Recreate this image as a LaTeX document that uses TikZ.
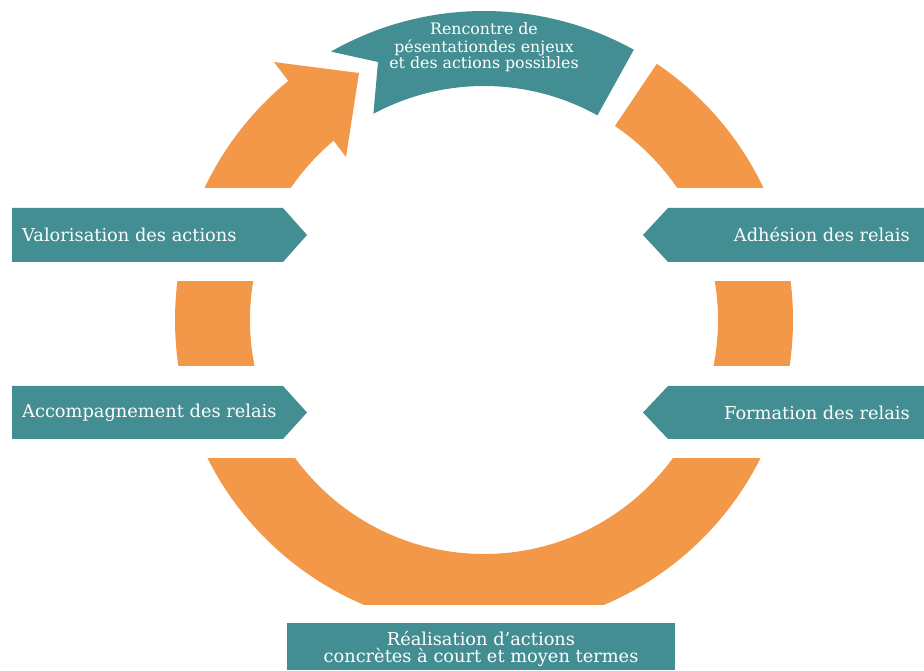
\documentclass[tikz,border=0pt]{standalone}
\usepackage{fontspec}
\setmainfont{DejaVu Serif}
\usetikzlibrary{calc}
\definecolor{ringorange}{HTML}{F29848}
\definecolor{tealbox}{HTML}{428E92}
\begin{document}
\begin{tikzpicture}[x=1pt,y=1pt,
  seg/.style={fill=ringorange, even odd rule},
  chev/.style={fill=tealbox},
  sidelbl/.style={text=white, inner sep=0pt, font=\fontsize{17.8}{20}\selectfont},
  toplbl/.style={text=white, inner sep=0pt, align=center, font=\fontsize{15.8}{16}\selectfont},
  botlbl/.style={text=white, inner sep=0pt, align=center, font=\fontsize{17.8}{17}\selectfont}]
\useasboundingbox (0,0) rectangle (924,670);
\coordinate (C) at (484,350);

% top-right ring segment
\begin{scope}
  \clip (484,482) rectangle (924,670);
  \clip (C) -- ($(C)+(56:700)$) -- ($(C)+(0:700)$) -- cycle;
  \fill[seg] (C) circle[radius=309pt] (C) circle[radius=234pt];
\end{scope}
% right middle segment
\begin{scope}
  \clip (484,304) rectangle (924,388);
  \fill[seg] (C) circle[radius=309pt] (C) circle[radius=234pt];
\end{scope}
% left middle segment
\begin{scope}
  \clip (0,304) rectangle (484,388);
  \fill[seg] (C) circle[radius=309pt] (C) circle[radius=234pt];
\end{scope}
% bottom segment
\begin{scope}
  \clip (0,66) rectangle (924,211);
  \fill[seg] (C) circle[radius=309pt] (C) circle[radius=234pt];
\end{scope}
% upper-left arrow shaft
\begin{scope}
  \clip (0,482) rectangle (484,670);
  \clip (C) -- ($(C)+(128:700)$) -- ($(C)+(180:700)$) -- cycle;
  \fill[seg] (C) circle[radius=309pt] (C) circle[radius=234pt];
\end{scope}
% arrow head
\fill[ringorange] (274,608) -- (359,597) -- (346,513) -- cycle;

% top teal block
\fill[chev] ($(C)+(119.7:309)$) arc[start angle=119.7, end angle=61, radius=309pt]
  -- ($(C)+(61:234)$) arc[start angle=61, end angle=118.2, radius=234pt]
  -- (378,608) -- cycle;
\node[toplbl] (top) at (484,623) {Rencontre de\\[2pt]pésentationdes enjeux\\et des actions possibles};

% left chevrons
\fill[chev] (12,408) -- (283,408) -- (307,435) -- (283,462) -- (12,462) -- cycle;
\node[sidelbl, anchor=west] (valo) at (22,435) {Valorisation des actions};
\fill[chev] (12,231) -- (283,231) -- (307,257.5) -- (283,284) -- (12,284) -- cycle;
\node[sidelbl, anchor=west] (accomp) at (22,257.5) {Accompagnement des relais};

% right chevrons
\fill[chev] (924,408) -- (668,408) -- (643,435) -- (668,462) -- (924,462) -- cycle;
\node[sidelbl, anchor=east] (adh) at (910,435) {Adhésion des relais};
\fill[chev] (924,231) -- (668,231) -- (643,257.5) -- (668,284) -- (924,284) -- cycle;
\node[sidelbl, anchor=east] (form) at (910,257.5) {Formation des relais};

% bottom box
\fill[chev] (287,0) rectangle (675,47);
\node[botlbl] (real) at (481,21) {Réalisation d’actions\\concrètes à court et moyen termes};
\end{tikzpicture}
\end{document}
